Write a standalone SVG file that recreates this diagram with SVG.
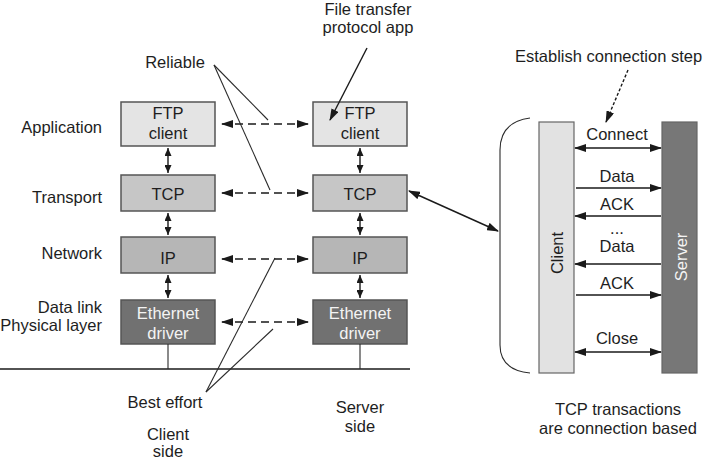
<svg xmlns="http://www.w3.org/2000/svg" width="703" height="461" viewBox="0 0 703 461">
<defs>
<marker id="ah" viewBox="0 0 12 8" refX="11" refY="4" markerWidth="12" markerHeight="8" markerUnits="userSpaceOnUse" orient="auto-start-reverse">
<path d="M0,0 L12,4 L0,8 Z" fill="#1a1a1a"/>
</marker>
<marker id="ahs" viewBox="0 0 8 7" refX="8" refY="3.5" markerWidth="8" markerHeight="7" markerUnits="userSpaceOnUse" orient="auto-start-reverse">
<path d="M0,0 L8,3.5 L0,7 Z" fill="#1a1a1a"/>
</marker>
</defs>
<style>
text{font-family:"Liberation Sans",Arial,sans-serif;font-size:16.5px;fill:#1e1e1e}
.m{text-anchor:middle}
.r{text-anchor:end}
.w{fill:#f4f4f4}
.box{stroke:#555;stroke-width:1.5}
.ftp{fill:#e4e4e4}
.tcp{fill:#c6c6c6}
.ip{fill:#b6b6b6}
.eth{fill:#717171}
.ln{stroke:#1a1a1a;stroke-width:1.4;fill:none}
.dash{stroke:#1a1a1a;stroke-width:1.4;fill:none;stroke-dasharray:8 5}
.thin{stroke:#2a2a2a;stroke-width:1.1;fill:none}
</style>
<rect width="703" height="461" fill="#fff"/>

<g id="layer-labels">
<text class="r" x="102" y="133">Application</text>
<text class="r" x="102" y="203">Transport</text>
<text class="r" x="102" y="259">Network</text>
<text class="r" x="102" y="313">Data link</text>
<text class="r" x="102" y="331">Physical layer</text>
</g>

<g id="client-ftp"><rect class="box ftp" x="121" y="102" width="94" height="44"/><text class="m" x="168" y="119">FTP</text><text class="m" x="168" y="139">client</text></g>
<g id="client-tcp"><rect class="box tcp" x="121" y="175" width="94" height="36"/><text class="m" x="168" y="200">TCP</text></g>
<g id="client-ip"><rect class="box ip" x="121" y="237" width="94" height="36"/><text class="m" x="168" y="264">IP</text></g>
<g id="client-eth"><rect class="box eth" x="121" y="300" width="94" height="44"/><text class="m w" x="168" y="319">Ethernet</text><text class="m w" x="168" y="339">driver</text></g>

<g id="server-ftp"><rect class="box ftp" x="313" y="102" width="94" height="44"/><text class="m" x="360" y="119">FTP</text><text class="m" x="360" y="139">client</text></g>
<g id="server-tcp"><rect class="box tcp" x="313" y="175" width="94" height="36"/><text class="m" x="360" y="200">TCP</text></g>
<g id="server-ip"><rect class="box ip" x="313" y="237" width="94" height="36"/><text class="m" x="360" y="264">IP</text></g>
<g id="server-eth"><rect class="box eth" x="313" y="300" width="94" height="44"/><text class="m w" x="360" y="319">Ethernet</text><text class="m w" x="360" y="339">driver</text></g>

<g id="bus"><line class="ln" x1="0" y1="369" x2="410" y2="369" stroke-width="2"/></g>

<g id="client-right"><rect x="539" y="122" width="35" height="251" fill="#e2e2e2" stroke="#666" stroke-width="1.2"/><text class="m" transform="translate(563,253) rotate(-90)">Client</text></g>
<g id="server-right"><rect x="662" y="122" width="35" height="251" fill="#777" stroke="#666" stroke-width="1.2"/><text class="m w" transform="translate(687,257) rotate(-90)">Server</text></g>

<g id="brace"><path class="thin" d="M530,118 Q500,122 500,150 L500,345 Q500,370 530,373"/></g>

<g id="connectors">
<line class="ln" x1="168" y1="148" x2="168" y2="173" marker-start="url(#ahs)" marker-end="url(#ahs)"/>
<line class="ln" x1="168" y1="213" x2="168" y2="235" marker-start="url(#ahs)" marker-end="url(#ahs)"/>
<line class="ln" x1="168" y1="275" x2="168" y2="298" marker-start="url(#ahs)" marker-end="url(#ahs)"/>
<line class="ln" x1="360" y1="148" x2="360" y2="173" marker-start="url(#ahs)" marker-end="url(#ahs)"/>
<line class="ln" x1="360" y1="213" x2="360" y2="235" marker-start="url(#ahs)" marker-end="url(#ahs)"/>
<line class="ln" x1="360" y1="275" x2="360" y2="298" marker-start="url(#ahs)" marker-end="url(#ahs)"/>
<line class="thin" x1="168" y1="344" x2="168" y2="369"/>
<line class="thin" x1="360" y1="344" x2="360" y2="369"/>

<line class="dash" x1="222" y1="124" x2="308" y2="124" marker-start="url(#ah)" marker-end="url(#ah)"/>
<line class="dash" x1="222" y1="193" x2="308" y2="193" marker-start="url(#ah)" marker-end="url(#ah)"/>
<line class="dash" x1="222" y1="259" x2="308" y2="259" marker-start="url(#ah)" marker-end="url(#ah)"/>
<line class="dash" x1="222" y1="322" x2="308" y2="322" marker-start="url(#ah)" marker-end="url(#ah)"/>

<line class="thin" x1="214" y1="65" x2="268" y2="120"/>
<line class="thin" x1="214" y1="65" x2="270" y2="190"/>
<line class="thin" x1="206" y1="392" x2="275" y2="258"/>
<line class="thin" x1="206" y1="392" x2="273" y2="329"/>

<line class="ln" x1="367" y1="48" x2="330" y2="120" marker-end="url(#ah)"/>
<line class="ln" x1="409" y1="191" x2="498" y2="231" marker-start="url(#ah)" marker-end="url(#ah)"/>
<line class="ln" x1="628" y1="70" x2="606" y2="122" stroke-dasharray="3 2" stroke-width="1.1" marker-end="url(#ah)"/>

<line class="ln" x1="575" y1="148" x2="661" y2="148" marker-start="url(#ah)" marker-end="url(#ah)"/>
<line class="ln" x1="576" y1="188" x2="661" y2="188" marker-end="url(#ah)"/>
<line class="ln" x1="661" y1="216" x2="575" y2="216" marker-end="url(#ah)"/>
<line class="ln" x1="661" y1="264" x2="575" y2="264" marker-end="url(#ah)"/>
<line class="ln" x1="576" y1="295" x2="661" y2="295" marker-end="url(#ah)"/>
<line class="ln" x1="575" y1="352" x2="661" y2="352" marker-start="url(#ah)" marker-end="url(#ah)"/>
</g>

<g id="annotations">
<text class="m" x="368" y="15">File transfer</text>
<text class="m" x="368" y="33">protocol app</text>
<text class="m" x="175" y="68">Reliable</text>
<text class="m" x="165" y="408">Best effort</text>
<text class="m" x="168" y="440">Client</text>
<text class="m" x="168" y="457">side</text>
<text class="m" x="360" y="413">Server</text>
<text class="m" x="360" y="432">side</text>
<text x="515" y="62">Establish connection step</text>
<text class="m" x="617" y="140">Connect</text>
<text class="m" x="617" y="182">Data</text>
<text class="m" x="617" y="210">ACK</text>
<text class="m" x="617" y="234">...</text>
<text class="m" x="617" y="252">Data</text>
<text class="m" x="617" y="289">ACK</text>
<text class="m" x="617" y="344">Close</text>
<text class="m" x="618" y="415">TCP transactions</text>
<text class="m" x="618" y="434">are connection based</text>
</g>
</svg>
